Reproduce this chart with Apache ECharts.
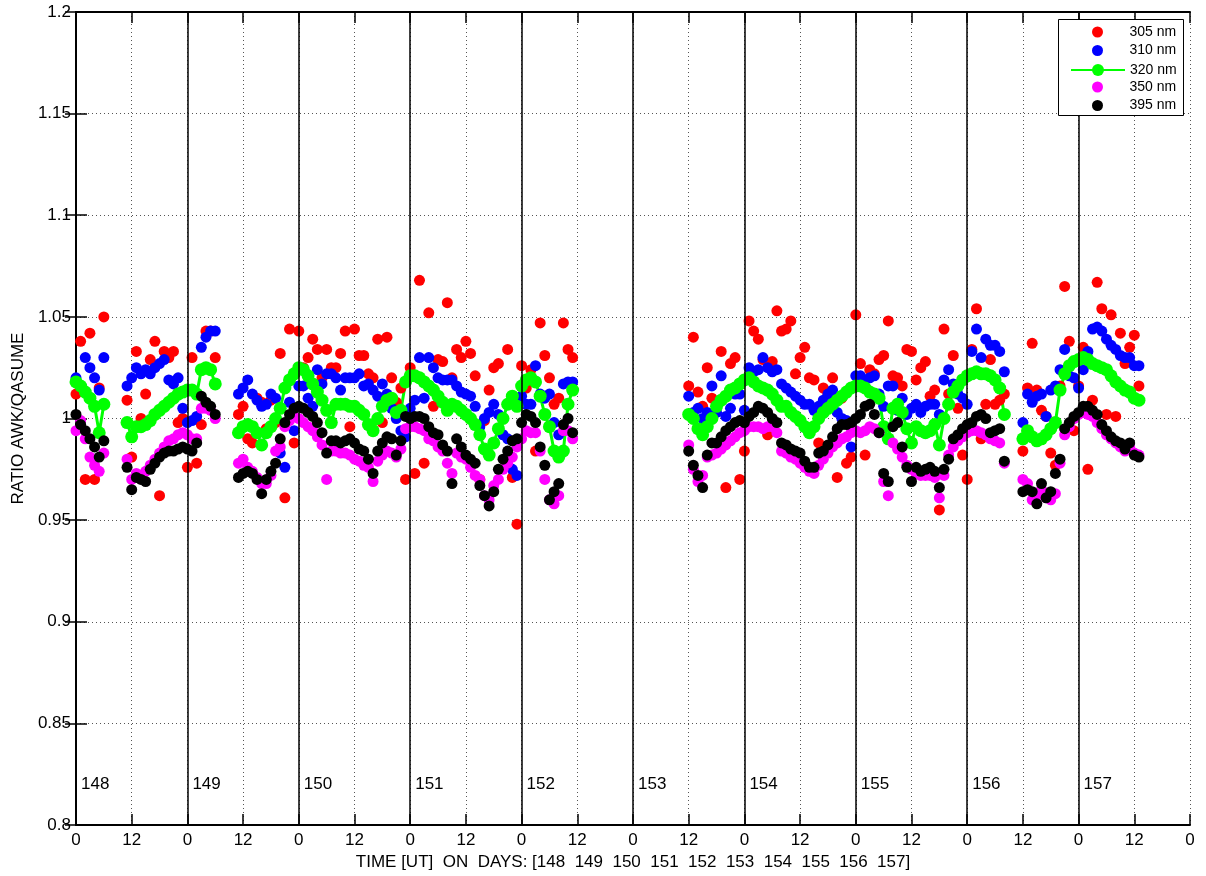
<!DOCTYPE html>
<html lang="en">

<head>
    <meta charset="UTF-8">
    <title>Ratio AWK/QASUME</title>
    <script src="https://cdn.jsdelivr.net/npm/echarts@6/dist/echarts.min.js"></script>
    <style>
        html, body { margin: 0; padding: 0; background: #ffffff; }
        #chart { width: 1206px; height: 876px; }
    </style>
</head>

<body>
    <div id="chart"></div>

    <script>
        // measurement runs, hours since day 148 00 UT (hourly samples)
        var runs = [[0, 6], [11, 30], [35, 107], [132, 200], [204, 229]];
        var dayLabels = ["148", "149", "150", "151", "152", "153", "154", "155", "156", "157"];
        var dayLabelY = 0.82;
        var yTicks = [0.8, 0.85, 0.9, 0.95, 1, 1.05, 1.1, 1.15, 1.2];

        var r305 = [
            1.012, 1.038, 0.970, 1.042, 0.970, 1.015, 1.050,
            1.009, 0.981, 1.033, 1.000, 1.012, 1.029, 1.038, 0.962, 1.033, 1.030, 1.033, 0.998, 1.000, 0.976, 1.030, 0.978, 0.997, 1.043, 1.043, 1.030,
            1.002, 1.006, 0.990, 0.988, 1.010, 1.008, 0.995, 1.009, 0.998, 1.032, 0.961, 1.044, 0.988, 1.043, 1.025, 1.030, 1.039, 1.034, 1.020, 1.034, 1.025, 1.025, 1.032, 1.043, 0.996, 1.044, 1.031, 1.031, 1.022, 1.020, 1.039, 0.998, 1.040, 1.020, 1.008, 1.015, 0.970,
            1.025, 0.973, 1.068, 0.978, 1.052, 1.006, 1.029, 1.028, 1.057, 1.020, 1.034, 1.030, 1.038, 1.032, 1.021, 0.970, 0.999, 1.014, 1.025, 1.027, 1.000, 1.034, 0.971, 0.948, 1.026, 1.015, 1.024, 0.984, 1.047, 1.031, 1.020, 1.007, 1.010, 1.047, 1.034, 1.030,
            1.016, 1.040, 1.013, 1.006, 1.025, 1.010, 1.006, 1.033, 0.966, 1.027, 1.030, 0.970, 0.984, 1.048, 1.043, 1.039, 1.029, 0.992, 1.028, 1.053, 1.043, 1.044, 1.048, 1.022, 1.030, 1.035, 1.020, 1.019, 0.988, 1.015, 1.012, 1.020, 0.971, 1.010, 0.978, 0.981, 1.051,
            1.027, 0.982, 1.024, 1.022, 1.029, 1.031, 1.048, 1.021, 1.020, 1.016, 1.034, 1.033, 1.019, 1.025, 1.028, 1.011, 1.014, 0.955, 1.044, 1.012, 1.031, 1.005, 0.982, 0.970, 1.034, 1.054, 0.990, 1.007, 1.029, 1.007, 1.009, 1.012,
            0.984, 1.015, 1.037, 1.014, 1.004, 1.001, 0.983, 0.977, 1.016, 1.065, 1.038, 0.994, 1.016, 1.035, 0.975, 1.009, 1.067, 1.054, 1.002, 1.051, 1.001, 1.042, 1.027, 1.035, 1.041, 1.016
        ];
        var r310 = [
            1.020, 1.016, 1.030, 1.025, 1.020, 1.014, 1.030,
            1.016, 1.020, 1.025, 1.022, 1.024, 1.022, 1.025, 1.027, 1.029, 1.019, 1.017, 1.020, 1.005, 0.998, 0.999, 1.001, 1.035, 1.040, 1.043, 1.043,
            1.012, 1.015, 1.019, 1.012, 1.009, 1.006, 1.007, 1.012, 1.010, 0.983, 0.976, 1.008, 0.994, 1.016, 1.016, 1.010, 1.006, 1.024, 1.017, 1.022, 1.022, 1.020, 1.014, 1.020, 1.020, 1.020, 1.022, 1.016, 1.017, 1.014, 1.011, 1.017, 1.012, 1.005, 1.000, 0.994, 0.991,
            1.005, 1.009, 1.030, 1.010, 1.030, 1.025, 1.020, 1.019, 1.019, 1.019, 1.016, 1.013, 1.012, 1.011, 1.006, 0.996, 1.000, 1.003, 1.007, 1.002, 0.992, 0.990, 0.975, 0.972, 1.011, 1.007, 1.007, 1.026, 1.012, 1.010, 1.012, 0.998, 0.992, 1.017, 1.018, 1.018,
            1.011, 1.003, 1.005, 1.000, 1.003, 1.016, 1.003, 1.021, 1.001, 1.005, 1.012, 1.012, 1.004, 1.025, 1.023, 1.024, 1.030, 1.025, 1.023, 1.024, 1.017, 1.015, 1.013, 1.011, 1.009, 1.007, 1.007, 1.004, 1.006, 1.009, 1.012, 1.014, 1.003, 1.000, 0.999, 0.986, 1.021,
            1.021, 1.019, 1.020, 1.021, 1.012, 1.006, 1.016, 1.016, 1.004, 1.010, 1.002, 1.005, 1.007, 1.003, 1.006, 1.007, 1.007, 1.002, 1.019, 1.024, 1.017, 1.012, 1.010, 1.007, 1.033, 1.044, 1.030, 1.039, 1.036, 1.036, 1.033, 1.023,
            0.998, 1.012, 1.008, 1.011, 1.012, 1.001, 1.014, 1.016, 1.024, 1.034, 1.021, 1.020, 1.015, 1.024, 1.033, 1.044, 1.045, 1.043, 1.039, 1.036, 1.034, 1.031, 1.030, 1.030, 1.026, 1.026
        ];
        var r320 = [
            1.018, 1.016, 1.013, 1.010, 1.006, 0.993, 1.007,
            0.998, 0.991, 0.996, 0.996, 0.997, 0.999, 1.002, 1.004, 1.006, 1.008, 1.010, 1.012, 1.013, 1.014, 1.014, 1.012, 1.024, 1.025, 1.024, 1.017,
            0.993, 0.996, 0.997, 0.996, 0.993, 0.987, 0.993, 0.996, 1.000, 1.005, 1.015, 1.019, 1.022, 1.025, 1.024, 1.021, 1.017, 1.013, 1.009, 1.004, 0.998, 1.007, 1.007, 1.007, 1.006, 1.006, 1.004, 1.002, 0.997, 0.994, 1.000, 1.006, 1.009, 1.010, 1.003, 1.004, 1.018,
            1.021, 1.021, 1.020, 1.018, 1.016, 1.014, 1.011, 1.008, 1.004, 1.007, 1.006, 1.004, 1.002, 1.000, 0.997, 0.992, 0.985, 0.982, 0.988, 0.995, 1.000, 1.007, 1.011, 1.006, 1.016, 1.019, 1.020, 1.018, 1.011, 1.002, 0.996, 0.984, 0.981, 0.984, 1.007, 1.014,
            1.002, 1.000, 0.995, 0.992, 0.996, 1.000, 1.006, 1.009, 1.011, 1.014, 1.015, 1.017, 1.019, 1.020, 1.018, 1.016, 1.015, 1.014, 1.012, 1.009, 1.006, 1.006, 1.003, 1.001, 0.999, 0.996, 0.993, 0.996, 1.000, 1.003, 1.005, 1.007, 1.009, 1.011, 1.013, 1.015, 1.016,
            1.016, 1.015, 1.013, 1.012, 1.010, 0.996, 0.990, 1.005, 1.007, 1.003, 0.995, 0.988, 0.996, 0.994, 0.993, 0.994, 0.997, 0.987, 1.000, 1.007, 1.013, 1.016, 1.019, 1.021, 1.022, 1.023, 1.022, 1.022, 1.021, 1.019, 1.015, 1.002,
            0.990, 0.994, 0.991, 0.989, 0.990, 0.992, 0.995, 0.998, 1.014, 1.022, 1.026, 1.028, 1.029, 1.030, 1.029, 1.027, 1.026, 1.025, 1.024, 1.021, 1.018, 1.016, 1.014, 1.013, 1.010, 1.009
        ];
        var r350 = [
            0.994, 0.999, 0.990, 0.981, 0.977, 0.974, 0.983,
            0.980, 0.970, 0.973, 0.972, 0.974, 0.977, 0.980, 0.983, 0.986, 0.989, 0.990, 0.992, 0.993, 0.992, 0.990, 0.990, 1.005, 1.005, 1.004, 1.000,
            0.978, 0.980, 0.976, 0.974, 0.971, 0.968, 0.968, 0.972, 0.984, 0.986, 0.996, 0.999, 1.001, 1.000, 0.998, 0.996, 0.994, 0.991, 0.987, 0.970, 0.984, 0.984, 0.983, 0.983, 0.982, 0.980, 0.979, 0.977, 0.976, 0.969, 0.979, 0.982, 0.984, 0.983, 0.981, 0.985, 0.995,
            0.996, 0.996, 0.995, 0.994, 0.990, 0.989, 0.986, 0.984, 0.978, 0.973, 0.983, 0.981, 0.980, 0.976, 0.972, 0.970, 0.962, 0.960, 0.967, 0.970, 0.975, 0.978, 0.981, 0.986, 0.990, 0.994, 0.993, 0.993, 0.984, 0.970, 0.960, 0.958, 0.962, 0.994, 0.994, 0.990,
            0.987, 0.975, 0.969, 0.972, 0.981, 0.982, 0.983, 0.985, 0.987, 0.989, 0.991, 0.993, 0.994, 0.996, 0.996, 0.996, 0.995, 0.996, 0.996, 0.993, 0.984, 0.983, 0.981, 0.980, 0.978, 0.976, 0.974, 0.973, 0.977, 0.980, 0.983, 0.986, 0.988, 0.990, 0.991, 0.993, 0.994,
            0.993, 0.994, 0.996, 0.995, 0.993, 0.969, 0.962, 0.988, 0.985, 0.981, 0.977, 0.975, 0.973, 0.972, 0.972, 0.972, 0.971, 0.961, 0.972, 0.982, 0.986, 0.989, 0.991, 0.993, 0.994, 0.994, 0.993, 0.992, 0.990, 0.989, 0.988, 0.978,
            0.970, 0.968, 0.960, 0.962, 0.965, 0.961, 0.960, 0.963, 0.978, 0.992, 0.996, 1.000, 1.002, 1.003, 1.002, 1.001, 0.998, 0.995, 0.992, 0.990, 0.988, 0.986, 0.984, 0.986, 0.983, 0.982
        ];
        var r395 = [
            1.002, 0.997, 0.994, 0.990, 0.986, 0.981, 0.989,
            0.976, 0.965, 0.971, 0.970, 0.969, 0.975, 0.978, 0.981, 0.983, 0.984, 0.984, 0.985, 0.986, 0.985, 0.984, 0.988, 1.011, 1.008, 1.006, 1.002,
            0.971, 0.973, 0.974, 0.973, 0.970, 0.963, 0.970, 0.974, 0.978, 0.990, 0.998, 1.002, 1.005, 1.006, 1.005, 1.003, 1.001, 0.998, 0.993, 0.983, 0.989, 0.989, 0.988, 0.989, 0.990, 0.988, 0.985, 0.984, 0.980, 0.973, 0.984, 0.988, 0.991, 0.990, 0.982, 0.989, 1.001,
            1.000, 1.001, 1.001, 1.000, 0.996, 0.993, 0.992, 0.987, 0.984, 0.968, 0.990, 0.986, 0.982, 0.980, 0.978, 0.967, 0.962, 0.957, 0.964, 0.975, 0.980, 0.984, 0.989, 0.990, 0.998, 1.002, 1.001, 0.998, 0.986, 0.977, 0.960, 0.964, 0.968, 0.997, 1.000, 0.993,
            0.984, 0.977, 0.972, 0.966, 0.982, 0.988, 0.988, 0.991, 0.994, 0.996, 0.998, 0.999, 0.998, 1.001, 1.003, 1.006, 1.005, 1.003, 1.000, 0.998, 0.988, 0.987, 0.985, 0.984, 0.983, 0.979, 0.976, 0.976, 0.983, 0.984, 0.987, 0.991, 0.995, 0.997, 0.997, 0.998, 1.000,
            1.002, 1.006, 1.007, 1.002, 0.993, 0.973, 0.969, 0.996, 0.998, 0.986, 0.976, 0.969, 0.976, 0.974, 0.975, 0.976, 0.974, 0.966, 0.975, 0.980, 0.990, 0.992, 0.995, 0.997, 0.998, 1.001, 1.002, 1.000, 0.993, 0.994, 0.995, 0.979,
            0.964, 0.965, 0.964, 0.958, 0.968, 0.961, 0.964, 0.973, 0.980, 0.995, 0.998, 1.001, 1.003, 1.006, 1.006, 1.004, 1.002, 0.997, 0.994, 0.991, 0.989, 0.988, 0.985, 0.988, 0.982, 0.981
        ];

        var font = "'Liberation Sans', Arial, Helvetica, sans-serif";

        var hours = [];
        runs.forEach(function (r) {
            for (var h = r[0]; h <= r[1]; h++) hours.push(h);
        });

        // pair values with hours; a null point at each run start breaks the line
        function toPoints(vals) {
            var pts = [];
            for (var i = 0; i < hours.length; i++) {
                if (i > 0 && hours[i] - hours[i - 1] > 1) pts.push([hours[i], null]);
                pts.push([hours[i], vals[i]]);
            }
            return pts;
        }

        handleEcharts();

        function handleEcharts() {
            var chart = echarts.init(document.getElementById('chart'));

            var dayPoints = dayLabels.map(function (d, i) { return [i * 24, dayLabelY, d]; });
            var dayLines = dayLabels.slice(1).map(function (d, i) { return { xAxis: (i + 1) * 24 }; });

            function dots(name, vals, color) {
                return {
                    name: name,
                    type: 'scatter',
                    data: toPoints(vals),
                    symbol: 'circle',
                    symbolSize: 11,
                    itemStyle: { color: color, opacity: 1 },
                    z: 2,
                    silent: true
                };
            }

            var tickStyle = { show: true, inside: true, length: 11, lineStyle: { color: '#000', width: 1.5 } };
            var axisLineStyle = { show: true, lineStyle: { color: '#000', width: 2 } };
            var gridDots = { show: true, lineStyle: { color: '#555', width: 1, type: [1, 3] } };
            var legendText = { color: '#000', fontSize: 14, lineHeight: 16, fontFamily: font };

            chart.setOption({
                animation: false,
                grid: { left: 76, right: 16, top: 12, bottom: 51 },
                xAxis: [{
                    type: 'value',
                    min: 0,
                    max: 240,
                    interval: 12,
                    position: 'bottom',
                    name: 'TIME [UT]  ON  DAYS: [' + dayLabels.join('  ') + ']',
                    nameLocation: 'middle',
                    nameGap: 26,
                    nameTextStyle: { color: '#000', fontSize: 17, fontFamily: font },
                    axisLine: axisLineStyle,
                    axisTick: tickStyle,
                    splitLine: gridDots,
                    axisLabel: {
                        color: '#000', fontSize: 17, fontFamily: font, margin: 7,
                        formatter: function (v) { return String(v % 24); }
                    }
                }, {
                    type: 'value',
                    min: 0,
                    max: 240,
                    interval: 12,
                    position: 'top',
                    axisLine: axisLineStyle,
                    axisTick: tickStyle,
                    axisLabel: { show: false },
                    splitLine: { show: false }
                }],
                yAxis: [{
                    type: 'value',
                    min: yTicks[0],
                    max: yTicks[yTicks.length - 1],
                    interval: 0.05,
                    name: 'RATIO AWK/QASUME',
                    nameLocation: 'middle',
                    nameGap: 48,
                    nameTextStyle: { color: '#000', fontSize: 17, fontFamily: font },
                    axisLine: axisLineStyle,
                    axisTick: tickStyle,
                    splitLine: gridDots,
                    axisLabel: {
                        color: '#000', fontSize: 17, fontFamily: font, margin: 5,
                        formatter: function (v) { return String(+v.toFixed(2)); }
                    }
                }, {
                    type: 'value',
                    min: yTicks[0],
                    max: yTicks[yTicks.length - 1],
                    interval: 0.05,
                    position: 'right',
                    axisLine: axisLineStyle,
                    axisTick: tickStyle,
                    axisLabel: { show: false },
                    splitLine: { show: false }
                }],
                graphic: [{
                    type: 'rect',
                    left: 1058,
                    top: 19,
                    z: 100,
                    shape: { width: 125, height: 96 },
                    style: { fill: '#fff', stroke: '#000', lineWidth: 1 }
                }],
                legend: [{
                    data: ['305 nm', '310 nm'],
                    top: 24, left: 1092, itemHeight: 11
                }, {
                    data: ['320 nm'],
                    top: 62, left: 1070, itemHeight: 15
                }, {
                    data: ['350 nm', '395 nm'],
                    top: 79, left: 1092, itemHeight: 11
                }].map(function (l) {
                    l.orient = 'vertical';
                    l.itemWidth = 54;
                    l.itemGap = 2.5;
                    l.padding = 0;
                    l.z = 200;
                    l.selectedMode = false;
                    l.textStyle = legendText;
                    return l;
                }),
                series: [{
                    name: 'days',
                    type: 'scatter',
                    data: dayPoints,
                    symbolSize: 0,
                    itemStyle: { color: '#000' },
                    silent: true,
                    z: 1,
                    label: {
                        show: true,
                        position: 'right',
                        distance: 5,
                        color: '#000',
                        opacity: 1,
                        textBorderWidth: 0,
                        fontSize: 17,
                        fontFamily: font,
                        formatter: function (p) { return p.value[2]; }
                    },
                    markLine: {
                        silent: true,
                        symbol: ['none', 'none'],
                        label: { show: false },
                        lineStyle: { color: '#000', width: 1.5, type: 'solid' },
                        data: dayLines
                    }
                },
                dots('305 nm', r305, '#ff0000'),
                dots('310 nm', r310, '#0000ff'),
                {
                    name: '320 nm',
                    type: 'line',
                    data: toPoints(r320),
                    connectNulls: false,
                    symbol: 'circle',
                    symbolSize: 13,
                    showAllSymbol: true,
                    itemStyle: { color: '#00ff00' },
                    lineStyle: { color: '#00ff00', width: 3 },
                    z: 2,
                    silent: true
                },
                dots('350 nm', r350, '#ff00ff'),
                dots('395 nm', r395, '#000000')
                ]
            });
        }
    </script>
</body>

</html>
